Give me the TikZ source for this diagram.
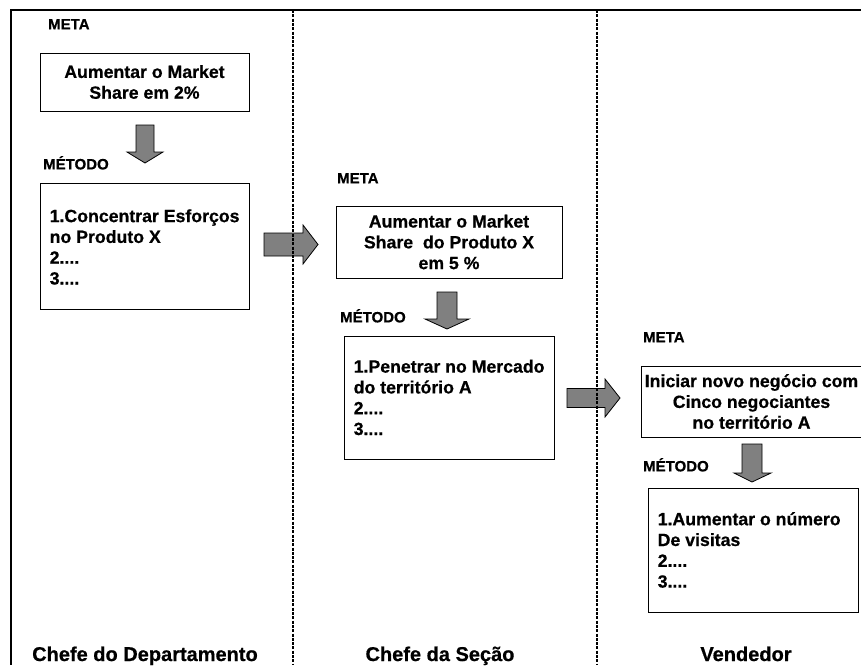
\documentclass[tikz,border=0pt]{standalone}
\usepackage{fontspec}
\setmainfont{Liberation Sans}[BoldFeatures={FakeBold=0.6}]
\newcommand\BoxFont{\bfseries\fontsize{17.7}{20.8}\selectfont}
\newcommand\TagFont{\bfseries\fontsize{15}{18}\selectfont}
\newcommand\RoleFont{\bfseries\fontsize{20}{24}\selectfont}
\definecolor{arrowgray}{RGB}{128,128,128}
\begin{document}
\begin{tikzpicture}[x=1pt,y=-1pt,
  frame/.style={line width=1.8pt},
  lane/.style={line width=1.5pt, dash pattern=on 3pt off 1.3pt},
  goalbox/.style={draw, line width=1pt, inner sep=0pt, align=center, font=\BoxFont},
  listbox/.style={draw, line width=1pt, inner sep=0pt},
  listtext/.style={anchor=west, inner sep=0pt, align=left, font=\BoxFont},
  tag/.style={anchor=base west, inner sep=0pt, font=\TagFont},
  role/.style={anchor=base, inner sep=0pt, font=\RoleFont},
  blockarrow/.style={draw, line width=0.8pt, fill=arrowgray, line join=miter},
]
\useasboundingbox (0,0) rectangle (861,665);

% outer frame: top and left edges only
\draw[frame] (10,10) -- (861,10);
\draw[frame] (11,10) -- (11,665);

% --- Chefe do Departamento ---
\node[tag] (meta1) at (48,29.4) {META};
\node[goalbox, minimum width=209pt, minimum height=58pt] (goal1) at (144.5,82)
  {Aumentar o Market\\Share em 2\%};
\node[tag] (met1) at (43,169.4) {MÉTODO};
\node[listbox, minimum width=209pt, minimum height=126pt] (list1) at (144.5,246) {};
\node[listtext] (list1t) at ([xshift=10pt,yshift=-1pt]list1.west)
  {1.Concentrar Esforços\\no Produto X\\2....\\3....};

% --- Chefe da Seção ---
\node[tag] (meta2) at (337,183.4) {META};
\node[goalbox, minimum width=226pt, minimum height=72pt] (goal2) at (449,242)
  {Aumentar o Market\\Share~ do Produto X\\em 5 \%};
\node[tag] (met2) at (340,322.4) {MÉTODO};
\node[listbox, minimum width=210pt, minimum height=123pt] (list2) at (449,397.5) {};
\node[listtext] (list2t) at ([xshift=10pt]list2.west)
  {1.Penetrar no Mercado\\do território A\\2....\\3....};

% --- Vendedor ---
\node[tag] (meta3) at (643,342.4) {META};
\node[goalbox, minimum width=221pt, minimum height=71pt] (goal3) at (751.5,401.5)
  {Iniciar novo negócio com\\Cinco negociantes\\no território A};
\node[tag] (met3) at (643,471.4) {MÉTODO};
\node[listbox, minimum width=210pt, minimum height=124pt] (list3) at (753,550) {};
\node[listtext] (list3t) at ([xshift=10pt]list3.west)
  {1.Aumentar o número\\De visitas\\2....\\3....};

% block arrows: goal -> method (down), method -> next goal (right)
\draw[blockarrow] (136,125) -- (154,125) -- (154,152) -- (163,152) -- (145,163)
  -- (127,152) -- (136,152) -- cycle;
\draw[blockarrow] (437,292) -- (457,292) -- (457,319) -- (469,319) -- (447,329)
  -- (425,319) -- (437,319) -- cycle;
\draw[blockarrow] (742,444) -- (762,444) -- (762,473) -- (771,473) -- (752,482)
  -- (734,473) -- (742,473) -- cycle;
\draw[blockarrow] (264,233) -- (303,233) -- (303,225) -- (318,244.5) -- (303,264)
  -- (303,256) -- (264,256) -- cycle;
\draw[blockarrow] (567,388.5) -- (605,388.5) -- (605,379) -- (620,398) -- (605,417)
  -- (605,407.5) -- (567,407.5) -- cycle;

% lane separators
\draw[lane] (293,10) -- (293,665);
\draw[lane] (597,10) -- (597,665);

% lane titles
\node[role] (r1) at (145,661) {Chefe do Departamento};
\node[role] (r2) at (440,661) {Chefe da Seção};
\node[role] (r3) at (746,661) {Vendedor};
\end{tikzpicture}
\end{document}
